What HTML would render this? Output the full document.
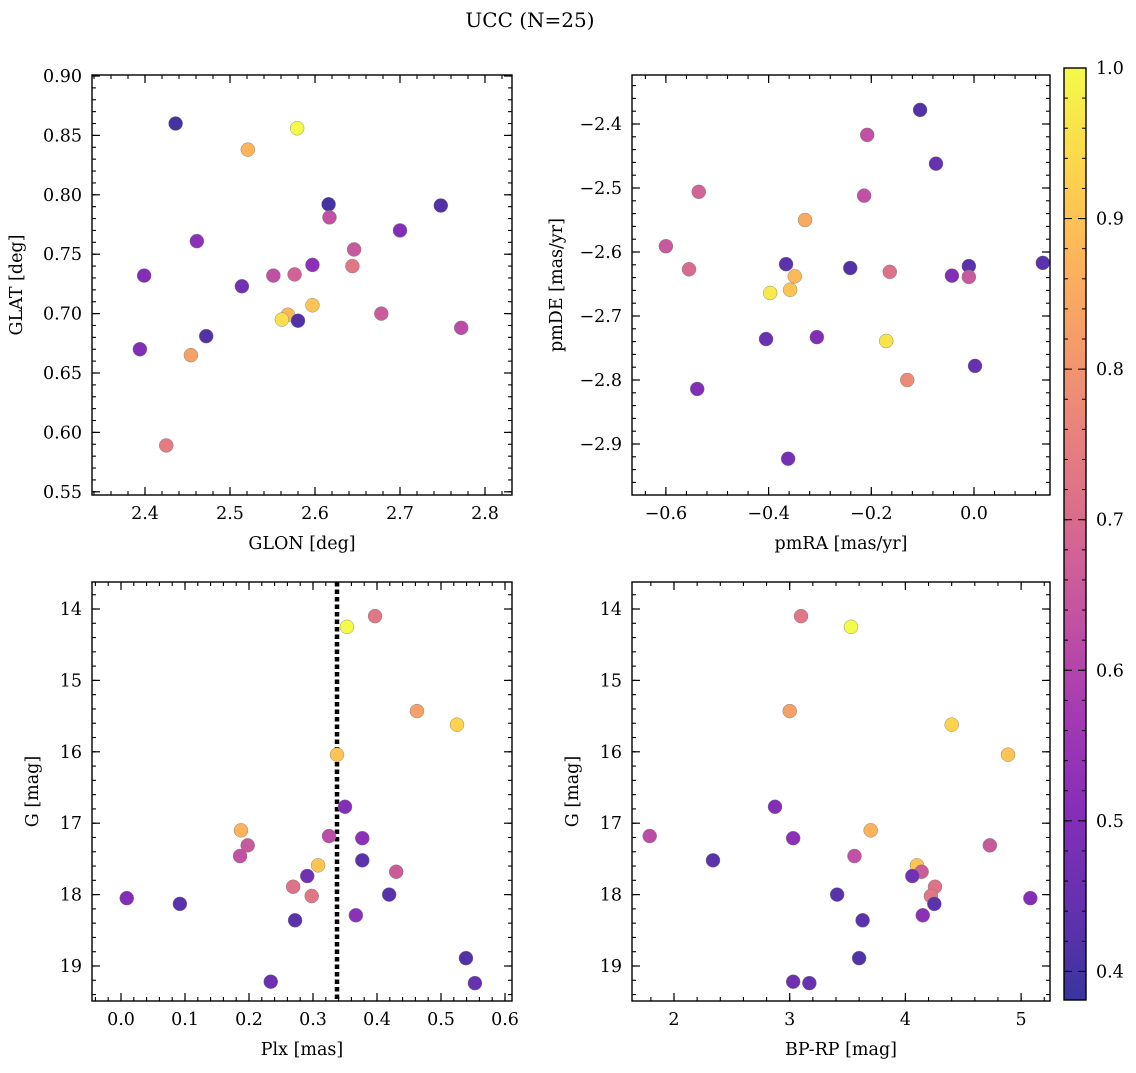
<!DOCTYPE html>
<html><head><meta charset="utf-8"><style>
body{margin:0;background:#fff;}
svg text{font-family:"DejaVu Serif","Liberation Serif",serif;fill:#000;}
</style></head><body>
<svg id="fig" width="1136" height="1068" xmlns="http://www.w3.org/2000/svg">
<defs>
<linearGradient id="cbgrad" x1="0" y1="1" x2="0" y2="0"></linearGradient>
</defs>
<text x="530" y="27" font-size="20" text-anchor="middle">UCC (N=25)</text>
</svg>
<script>
// Panel 1: GLON vs GLAT
const glon = [2.436,2.579,2.521,2.616,2.748,2.617,2.461,2.700,2.646,2.399,2.551,2.576,2.597,2.644,2.514,2.597,2.568,2.561,2.580,2.678,2.772,2.472,2.394,2.454,2.425];
const glat = [0.860,0.856,0.838,0.792,0.791,0.781,0.761,0.770,0.754,0.732,0.732,0.733,0.741,0.740,0.723,0.707,0.699,0.695,0.694,0.700,0.688,0.681,0.670,0.665,0.589];
const prob1 = [0.40,1.0,0.87,0.40,0.42,0.63,0.52,0.50,0.65,0.50,0.63,0.68,0.52,0.73,0.47,0.90,0.88,0.95,0.42,0.66,0.62,0.42,0.50,0.83,0.74];
// Panel 2: pmRA vs pmDE
const pmra = [-0.105,-0.208,-0.074,-0.536,-0.214,-0.329,-0.600,-0.366,0.134,-0.555,-0.241,-0.010,-0.164,-0.349,-0.043,-0.010,-0.358,-0.397,-0.405,-0.306,-0.171,0.002,-0.130,-0.539,-0.362];
const pmde = [-2.378,-2.417,-2.462,-2.506,-2.512,-2.550,-2.591,-2.619,-2.617,-2.627,-2.625,-2.622,-2.631,-2.638,-2.637,-2.639,-2.659,-2.664,-2.736,-2.733,-2.739,-2.778,-2.800,-2.814,-2.923];
const prob2 = [0.42,0.63,0.45,0.68,0.63,0.85,0.65,0.43,0.43,0.70,0.42,0.43,0.72,0.88,0.50,0.65,0.90,0.97,0.45,0.50,0.96,0.45,0.78,0.50,0.48];
// Panel 3 & 4: Plx, BP-RP vs G
const gmag = [14.10,14.25,15.43,15.62,16.04,16.77,17.10,17.18,17.21,17.31,17.46,17.52,17.59,17.68,17.74,17.89,18.02,18.00,18.05,18.13,18.36,18.29,18.89,19.22,19.24];
const plx  = [0.397,0.353,0.4625,0.525,0.3375,0.350,0.1875,0.325,0.377,0.198,0.186,0.377,0.308,0.430,0.291,0.269,0.298,0.419,0.009,0.092,0.272,0.367,0.539,0.234,0.553];
const bprp = [3.098,3.53,3.00,4.40,4.887,2.873,3.70,1.79,3.03,4.73,3.56,2.337,4.10,4.14,4.06,4.256,4.22,3.41,5.08,4.25,3.63,4.15,3.60,3.03,3.17];
const prob3 = [0.73,1.0,0.83,0.93,0.90,0.50,0.87,0.62,0.52,0.65,0.63,0.43,0.90,0.66,0.47,0.72,0.73,0.43,0.50,0.43,0.43,0.52,0.42,0.46,0.45];
const plxMedian = [0.3375];
const xt1=[2.4,2.5,2.6,2.7,2.8], yt1=[0.55,0.60,0.65,0.70,0.75,0.80,0.85,0.90];
const xt2=[-0.6,-0.4,-0.2,0.0], yt2=[-2.9,-2.8,-2.7,-2.6,-2.5,-2.4];
const xt3=[0.0,0.1,0.2,0.3,0.4,0.5,0.6], yt3=[14,15,16,17,18,19];
const xt4=[2,3,4,5];
const cbt=[0.4,0.5,0.6,0.7,0.8,0.9,1.0];

const NS="http://www.w3.org/2000/svg";
const svg=document.getElementById('fig');
const FS=17.5, LFS=17.5;
function mk(t,a,p){const e=document.createElementNS(NS,t);for(const k in a)e.setAttribute(k,a[k]);(p||svg).appendChild(e);return e;}
const stops=['#0d0887','#41049d','#6a00a8','#8f0da4','#b12a90','#cc4778','#e16462','#f2844b','#fca636','#fcce25','#f0f921'];
function hx(c){return [1,3,5].map(i=>parseInt(c.substr(i,2),16));}
const VMIN=0.381,VMAX=1.0;
function cmap(v){let t=(v-VMIN)/(VMAX-VMIN);t=Math.max(0,Math.min(1,t))*10;const i=Math.min(9,Math.floor(t)),f=t-i;const a=hx(stops[i]),b=hx(stops[i+1]);
 const c=a.map((x,k)=>x+(b[k]-x)*f).map(x=>Math.round(x*0.82+255*0.18));return `rgb(${c[0]},${c[1]},${c[2]})`;}
function fmt(v,d){return (v<0?'\u2212':'')+Math.abs(v).toFixed(d);}

function panel(o){
 const g=mk('g',{});
 
 
 const sx=v=>o.x0+(v-o.xmin)/(o.xmax-o.xmin)*(o.x1-o.x0);
 const sy=v=>o.yinv? o.y0+(v-o.ymin)/(o.ymax-o.ymin)*(o.y1-o.y0) : o.y1-(v-o.ymin)/(o.ymax-o.ymin)*(o.y1-o.y0);
 for(let v=Math.ceil(o.xmin/o.xm-1e-9)*o.xm; v<=o.xmax+1e-9; v+=o.xm){const X=sx(v);
  mk('line',{x1:X,x2:X,y1:o.y1,y2:o.y1-4,stroke:'#000','stroke-width':1.1},g);mk('line',{x1:X,x2:X,y1:o.y0,y2:o.y0+4,stroke:'#000','stroke-width':1.1},g);}
 for(let v=Math.ceil(o.ymin/o.ym-1e-9)*o.ym; v<=o.ymax+1e-9; v+=o.ym){const Y=sy(v);
  mk('line',{x1:o.x0,x2:o.x0+4,y1:Y,y2:Y,stroke:'#000','stroke-width':1.1},g);mk('line',{x1:o.x1,x2:o.x1-4,y1:Y,y2:Y,stroke:'#000','stroke-width':1.1},g);}
 o.xt.forEach(v=>{const X=sx(v);
  mk('line',{x1:X,x2:X,y1:o.y1,y2:o.y1-8,stroke:'#000','stroke-width':1.2},g);mk('line',{x1:X,x2:X,y1:o.y0,y2:o.y0+8,stroke:'#000','stroke-width':1.2},g);
  const t=mk('text',{x:X,y:o.y1+24,'font-size':FS,'text-anchor':'middle'},g);t.textContent=fmt(v,o.xd);
  
  });
 o.yt.forEach(v=>{const Y=sy(v);
  mk('line',{x1:o.x0,x2:o.x0+8,y1:Y,y2:Y,stroke:'#000','stroke-width':1.2},g);mk('line',{x1:o.x1,x2:o.x1-8,y1:Y,y2:Y,stroke:'#000','stroke-width':1.2},g);
  const t=mk('text',{x:o.x0-10,y:Y+6,'font-size':FS,'text-anchor':'end'},g);t.textContent=fmt(v,o.yd);
  
  });
 if(o.vline!==undefined){const X=sx(o.vline);const l=mk('line',{x1:X,x2:X,y1:o.y0,y2:o.y1,stroke:'#000','stroke-width':4.5,'stroke-dasharray':'4.5,3'},g);
  
  }
 o.xs.forEach((v,i)=>{const c=mk('circle',{cx:sx(v),cy:sy(o.ys[i]),r:7,fill:cmap(o.p[i]),stroke:'#777','stroke-width':0.4},g);
  
  });
 const f=mk('rect',{x:o.x0,y:o.y0,width:o.x1-o.x0,height:o.y1-o.y0,fill:'none',stroke:'#000','stroke-width':1.4},g);
 
 
 const xl=mk('text',{x:(o.x0+o.x1)/2,y:o.y1+54,'font-size':LFS,'text-anchor':'middle'},g);xl.textContent=o.xl;
 
 
 const yx=o.x0-o.ylOff, yy=(o.y0+o.y1)/2;
 const yl=mk('text',{x:yx,y:yy,'font-size':LFS,'text-anchor':'middle',transform:`rotate(-90 ${yx} ${yy})`},g);yl.textContent=o.yl;
 
 
}
panel({name:'panel-glon-glat',x0:92,x1:512,y0:75,y1:495,xmin:2.4-53/850,xmax:2.4+367/850,ymin:0.90-(495-76)/1188,ymax:0.90+1/1188,xm:0.02,ym:0.01,xt:xt1,yt:yt1,xd:1,yd:2,xs:glon,ys:glat,p:prob1,xl:'GLON [deg]',yl:'GLAT [deg]',ylOff:70});
panel({name:'panel-pm',x0:632,x1:1050,y0:75,y1:495,xmin:-(974-632)/513.5,xmax:(1050-974)/513.5,ymin:-2.4-(495-124)/640,ymax:-2.4+(124-75)/640,xm:0.04,ym:0.02,xt:xt2,yt:yt2,xd:1,yd:1,xs:pmra,ys:pmde,p:prob2,xl:'pmRA [mas/yr]',yl:'pmDE [mas/yr]',ylOff:70});
panel({name:'panel-plx-g',x0:92,x1:512,y0:582,y1:1001,xmin:-(121-92)/640,xmax:(512-121)/640,ymin:14-(609-582)/71.4,ymax:14+(1001-609)/71.4,yinv:true,xm:0.02,ym:0.2,xt:xt3,yt:yt3,xd:1,yd:0,xs:plx,ys:gmag,p:prob3,xl:'Plx [mas]',yl:'G [mag]',ylOff:54,vline:plxMedian[0]});
panel({name:'panel-cmd',x0:632,x1:1050,y0:582,y1:1001,xmin:2-(674-632)/115.7,xmax:2+(1050-674)/115.7,ymin:14-(609-582)/71.4,ymax:14+(1001-609)/71.4,yinv:true,xm:0.2,ym:0.2,xt:xt4,yt:yt3,xd:0,yd:0,xs:bprp,ys:gmag,p:prob3,xl:'BP-RP [mag]',yl:'G [mag]',ylOff:54});

const grad=document.getElementById('cbgrad');
for(let i=0;i<=20;i++){const v=VMIN+(VMAX-VMIN)*i/20;mk('stop',{offset:(i/20),'stop-color':cmap(v)},grad);}
const cb=mk('g',{});


const cy0=68,cy1=1000,cx0=1064,cx1=1086;
const csy=v=>cy1-(v-VMIN)/(VMAX-VMIN)*(cy1-cy0);
mk('rect',{x:cx0,y:cy0,width:cx1-cx0,height:cy1-cy0,fill:'url(#cbgrad)'},cb);
for(let v=0.4;v<=1.0001;v+=0.02){const Y=csy(v);mk('line',{x1:cx1,x2:cx1-4,y1:Y,y2:Y,stroke:'#000'},cb);mk('line',{x1:cx0,x2:cx0+4,y1:Y,y2:Y,stroke:'#000'},cb);}
cbt.forEach(v=>{const Y=csy(v);mk('line',{x1:cx1,x2:cx1-8,y1:Y,y2:Y,stroke:'#000'},cb);mk('line',{x1:cx0,x2:cx0+8,y1:Y,y2:Y,stroke:'#000'},cb);
 const t=mk('text',{x:cx1+10,y:Y+6,'font-size':FS},cb);t.textContent=v.toFixed(1);
 
 });
mk('rect',{x:cx0,y:cy0,width:cx1-cx0,height:cy1-cy0,fill:'none',stroke:'#000','stroke-width':1.4},cb);
</script>
</body></html>
